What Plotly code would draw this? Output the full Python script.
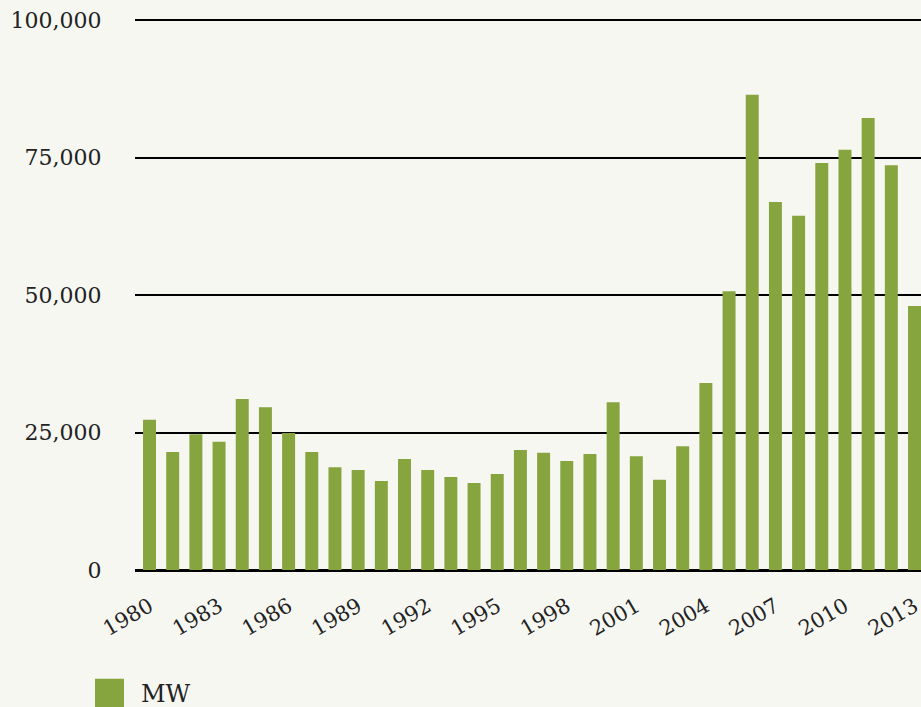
import plotly.graph_objects as go

years = list(range(1980, 2014))
mw = [27300, 21450, 24700, 23300, 31100, 29600, 24900, 21450, 18700, 18200,
      16200, 20200, 18200, 16900, 15800, 17450, 21800, 21300, 19800, 21100,
      30500, 20700, 16400, 22500, 34000, 50700, 86400, 66900, 64400, 74000,
      76400, 82200, 73600, 48000]
x_tick_vals = list(range(1980, 2014, 3))
y_tick_vals = [0, 25000, 50000, 75000, 100000]
y_tick_text = ["0", "25,000", "50,000", "75,000", "100,000"]
series_name = "MW"

BG = "#f7f7f2"
GREEN = "#86a53f"
TXT = "#222222"
FONT = "DejaVu Serif"

fig = go.Figure()
fig.add_trace(go.Bar(x=years, y=mw, name=series_name, marker_color=GREEN,
                     marker_line_width=0, showlegend=False))

fig.update_layout(
    width=921, height=707,
    margin=dict(l=135, r=0, t=18, b=137, autoexpand=False),
    paper_bgcolor=BG, plot_bgcolor=BG,
    bargap=0.44,
    font=dict(family=FONT, color=TXT, size=22),
    xaxis=dict(range=[1979.374, 2013.28], tickmode="array", tickvals=x_tick_vals,
               ticktext=[str(v) for v in x_tick_vals], tickangle=-30,
               showgrid=False, zeroline=False, showline=False,
               ticks="outside", ticklen=0, ticklabelstandoff=15,
               ticklabeloverflow="allow",
               tickfont=dict(family=FONT, size=21, color=TXT), fixedrange=True),
    yaxis=dict(range=[0, 100364], tickmode="array", tickvals=y_tick_vals,
               ticktext=y_tick_text, showgrid=True, gridcolor="#000000", gridwidth=2,
               zeroline=True, zerolinecolor="#000000", zerolinewidth=3,
               showline=False, ticks="outside", ticklen=0, ticklabelstandoff=28,
               tickfont=dict(family=FONT, size=22, color=TXT), fixedrange=True),
    shapes=[dict(type="rect", xref="paper", yref="paper",
                 x0=-0.0509, x1=-0.0140, y0=-0.26, y1=-0.197,
                 fillcolor=GREEN, line_width=0)],
    annotations=[dict(text=series_name, xref="paper", yref="paper",
                      x=0.005, y=-0.225, xanchor="left", yanchor="middle",
                      showarrow=False, font=dict(family=FONT, size=24, color=TXT))],
)

fig.write_html(
    "out.html",
    config={"displayModeBar": False},
    post_script="document.body.style.margin='0';document.body.style.background='%s';" % BG,
)
